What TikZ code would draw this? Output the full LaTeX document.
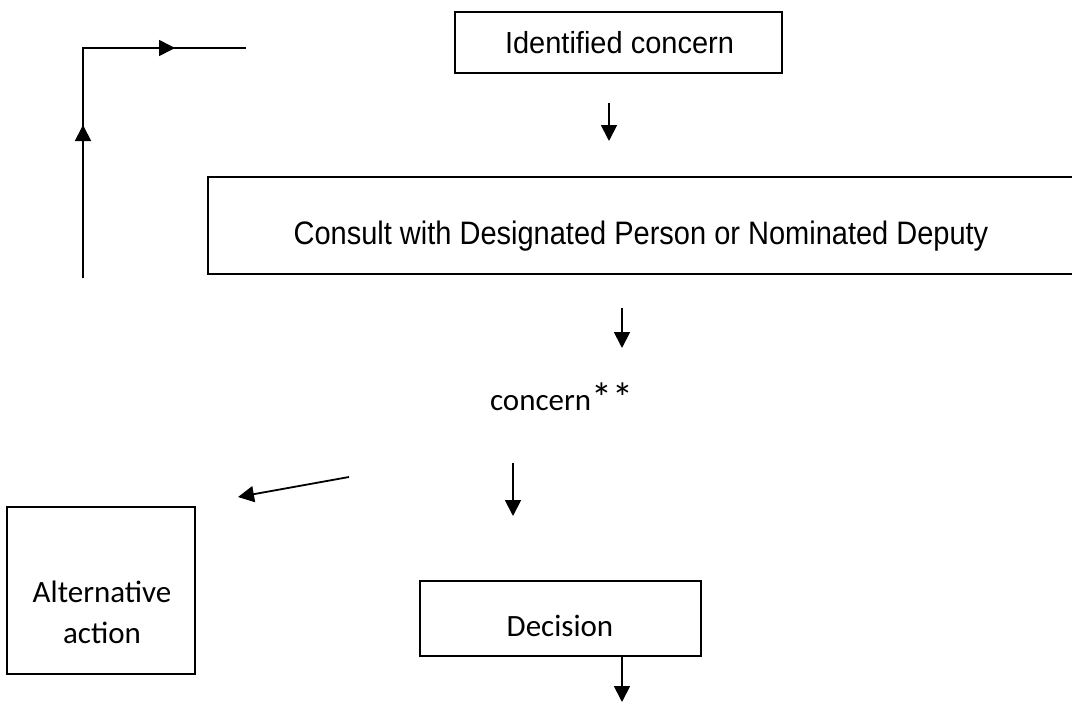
\documentclass[tikz,border=0pt]{standalone}
\usepackage{fontspec}
\newfontfamily\arialf{Liberation Sans}
\newfontfamily\calf{Carlito}
\usetikzlibrary{arrows.meta}
\begin{document}
\begin{tikzpicture}[x=1pt,y=-1pt,
  box/.style={draw=black, line width=2.8pt, inner sep=0pt, outer sep=0pt},
  arr/.style={draw=black, line width=1.8pt, -{Triangle[length=16pt,width=16pt]}},
  atext/.style={font=\arialf\fontsize{29}{35}\selectfont, anchor=base, inner sep=0pt},
  ctext/.style={font=\calf\fontsize{31}{41}\selectfont, anchor=base, inner sep=0pt}]
\useasboundingbox (0,0) rectangle (1072,702);
\fill[white] (0,0) rectangle (1072,702);

% boxes
\node[box, minimum width=327pt, minimum height=61pt] (idbox) at (618.5,42.5) {};
\node[box, minimum width=866pt, minimum height=97pt] (cbox) at (641,225.5) {};
\node[box, minimum width=188pt, minimum height=167pt] (altbox) at (101,590.5) {};
\node[box, minimum width=281pt, minimum height=75pt] (decbox) at (560.5,618.5) {};

% texts
\node[atext] (idtext) at (619.5,53) {\scalebox{1}[1.05]{Identified concern}};
\node[atext] (ctext) at (641,244) {\scalebox{1}[1.12]{Consult with Designated Person or Nominated Deputy}};
\node[ctext] (conc) at (561.5,410) {concern\raisebox{-2pt}{\scalebox{1.35}{**}}};
\node[ctext] (alt1) at (102,602) {Alternative};
\node[ctext] (alt2) at (102,643) {action};
\node[ctext] (dec) at (560,636) {Decision};

% arrow end points
\coordinate (a1s) at (609,103); \coordinate (a1e) at (609,141);
\coordinate (a2s) at (622,308); \coordinate (a2e) at (622,348);
\coordinate (a3s) at (513,463); \coordinate (a3e) at (513,516);
\coordinate (a4s) at (622,656); \coordinate (a4e) at (622,702);
\coordinate (dgs) at (349,477); \coordinate (dge) at (238,497);
\coordinate (fb0) at (83,278); \coordinate (fbc) at (83,48); \coordinate (fbe) at (246,48);
\coordinate (fbu) at (83,125); \coordinate (fbr) at (175,48);

\draw[arr] (a1s) -- (a1e);
\draw[arr] (a2s) -- (a2e);
\draw[arr] (a3s) -- (a3e);
\draw[arr] (a4s) -- (a4e);
\draw[arr] (dgs) -- (dge);

% feedback line
\draw[line width=1.8pt, line join=miter] (fb0) -- (fbc) -- (fbe);
\draw[arr] (fb0) -- (fbu);
\draw[arr] (fbc) -- (fbr);
\end{tikzpicture}
\end{document}
